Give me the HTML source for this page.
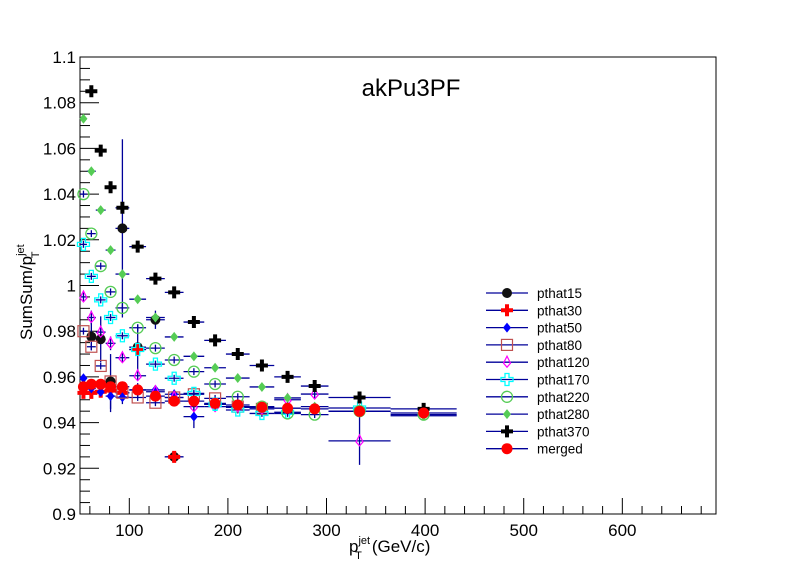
<!DOCTYPE html>
<html><head><meta charset="utf-8"><style>
body{margin:0;background:#fff}
svg{font-family:"Liberation Sans",sans-serif}
</style></head><body>
<svg id="c" width="796" height="572" viewBox="0 0 796 572" xmlns="http://www.w3.org/2000/svg">
<rect x="0" y="0" width="796" height="572" fill="#fff"/>
<g id="frame"></g>
<g id="bars"></g>
<g id="marks"></g>
<g id="legend"></g>
</svg>
<script>
const binEdges=[50,57,66,76,86,100,117,136,155,176,198,222,247,274,302,365,432];
const xTicks=[100,200,300,400,500,600];
const yTicks=[0.9,0.92,0.94,0.96,0.98,1,1.02,1.04,1.06,1.08,1.1];
const yTickLabels=["0.9","0.92","0.94","0.96","0.98","1","1.02","1.04","1.06","1.08","1.1"];
const seriesNames=["pthat15","pthat30","pthat50","pthat80","pthat120","pthat170","pthat220","pthat280","pthat370","merged"];
const v15=[null,0.9776,0.9765,0.958,1.025,0.973,0.985,0.925,null,null,null,null,null,null,null,null];
const e15=[0,0.006,0.010,0.012,0.039,0.010,0.004,0.001,0,0,0,0,0,0,0,0];
const v30=[0.953,0.953,0.9535,0.954,0.953,0.972,null,0.925,null,null,null,null,null,null,null,null];
const v50=[0.9594,0.955,0.9534,0.9516,0.9511,0.9543,0.9543,0.9524,0.9426,0.948,0.9467,0.9467,null,null,null,null];
const e50=[0.001,0.004,0.002,0.007,0.003,0.003,0.002,0.002,0.005,0.002,0.002,0.002,0,0,0,0];
const v80=[0.980,0.9732,0.9648,0.958,0.9531,0.951,0.9487,0.951,0.9524,0.9506,0.947,0.946,null,null,null,null];
const v120=[0.995,0.986,0.9796,0.9747,0.9684,0.9605,0.9535,0.951,0.947,0.947,0.947,0.946,0.950,0.9525,0.932,null];
const e120=[0.002,0.003,0.003,0.003,0.002,0.002,0.002,0.002,0.002,0.002,0.002,0.002,0.002,0.002,0.0105,0];
const v170=[1.018,1.004,0.9937,0.986,0.978,0.972,0.9656,0.9594,0.9528,0.948,0.9455,0.944,0.9445,null,0.9464,null];
const v220=[1.040,1.0227,1.0085,0.9972,0.9902,0.9815,0.9726,0.9674,0.9623,0.9569,0.9513,0.947,0.944,0.9435,0.945,0.9435];
const v280=[1.073,1.050,1.033,1.0155,1.005,0.994,0.986,0.9775,0.969,0.964,0.9595,0.9556,0.9508,0.947,0.945,0.943];
const v370=[null,1.085,1.059,1.043,1.034,1.017,1.003,0.997,0.984,0.976,0.970,0.965,0.960,0.956,0.951,0.946];
const vMerged=[0.9557,0.9568,0.9568,0.9557,0.9557,0.9543,0.9516,0.9494,0.9494,0.9484,0.9477,0.9467,0.9463,0.946,0.9449,0.9442];

const L=80,R=716,T=57,B=514,XMIN=50,XMAX=695,YMIN=0.9,YMAX=1.1;
const X=p=>L+(p-XMIN)/(XMAX-XMIN)*(R-L);
const Y=v=>B-(v-YMIN)/(YMAX-YMIN)*(B-T);
const NS="http://www.w3.org/2000/svg";
function mk(tag,parent,attrs){const e=document.createElementNS(NS,tag);for(const k in attrs)e.setAttribute(k,attrs[k]);parent.appendChild(e);return e;}
const fr=document.getElementById('frame'),bg=document.getElementById('bars'),mg=document.getElementById('marks'),lg=document.getElementById('legend');

const box=mk('rect',fr,{x:L,y:T,width:R-L,height:B-T,fill:'none',stroke:'#000','stroke-width':1});


for(let p=60;p<=XMAX;p+=20){const maj=p%100===0;const t=mk('line',fr,{x1:X(p),x2:X(p),y1:B,y2:B-(maj?16:8),stroke:'#000'});

}
xTicks.forEach(p=>{const t=mk('text',fr,{x:X(p),y:B+22,'font-size':17,'text-anchor':'middle'});t.textContent=p;

});
for(let i=0;i<=40;i++){const v=YMIN+i*0.005;const maj=i%4===0;const t=mk('line',fr,{x1:L,x2:L+(maj?19:10),y1:Y(v),y2:Y(v),stroke:'#000'});

}
yTicks.forEach((v,i)=>{const t=mk('text',fr,{x:L-4,y:Y(v)+6,'font-size':17,'text-anchor':'end'});t.textContent=yTickLabels[i];

});
const ttl=mk('text',fr,{x:411,y:96,'font-size':24,'text-anchor':'middle'});ttl.textContent='akPu3PF';


const xt=mk('text',fr,{x:349,y:552,'font-size':17});xt.innerHTML='p<tspan dy="-8" font-size="11">jet</tspan><tspan dx="-15" dy="15" font-size="11">T</tspan><tspan dx="10" dy="-7">(GeV/c)</tspan>';


const yt=mk('text',fr,{x:0,y:0,'font-size':17,transform:'translate(32,340) rotate(-90)'});yt.innerHTML='SumSum/p<tspan dy="-8" font-size="11">jet</tspan><tspan dx="-14" dy="15" font-size="11">T</tspan>';



function marker(g,type,cx,cy){
 switch(type){
 case 'dot': mk('circle',g,{cx,cy,r:5,fill:'#111'});break;
 case 'redcross': mk('path',g,{d:`M${cx-6} ${cy-2}h4v-4h4v4h4v4h-4v4h-4v-4h-4z`,fill:'#f00'});break;
 case 'bluediamond': mk('path',g,{d:`M${cx} ${cy-5}L${cx+4} ${cy}L${cx} ${cy+5}L${cx-4} ${cy}z`,fill:'#00f'});break;
 case 'square': mk('rect',g,{x:cx-5.5,y:cy-5.5,width:11,height:11,fill:'none',stroke:'#c05050','stroke-width':1.2});break;
 case 'odiamond': mk('path',g,{d:`M${cx} ${cy-6}L${cx+3.5} ${cy+1}L${cx} ${cy+5}L${cx-3.5} ${cy+1}z`,fill:'none',stroke:'#f0f','stroke-width':1.2});break;
 case 'ocross': mk('path',g,{d:`M${cx-6} ${cy-2}h4v-4h4v4h4v4h-4v4h-4v-4h-4z`,fill:'none',stroke:'#0ff','stroke-width':1.3});break;
 case 'ocircle': mk('circle',g,{cx,cy,r:5.5,fill:'none',stroke:'#5c5','stroke-width':1.3});break;
 case 'gdiamond': mk('path',g,{d:`M${cx} ${cy-5}L${cx+4} ${cy}L${cx} ${cy+5}L${cx-4} ${cy}z`,fill:'#5c5'});break;
 case 'bcross': mk('path',g,{d:`M${cx-6} ${cy-2}h4v-4h4v4h4v4h-4v4h-4v-4h-4z`,fill:'#000'});break;
 case 'redcircle': mk('circle',g,{cx,cy,r:5.5,fill:'#f00'});break;
 }
}
const allVals=[v15,v30,v50,v80,v120,v170,v220,v280,v370,vMerged];
const allErrs=[e15,null,e50,null,e120,null,null,null,null,null];
const types=['dot','redcross','bluediamond','square','odiamond','ocross','ocircle','gdiamond','bcross','redcircle'];
allVals.forEach((vals,si)=>{
 const gb=mk('g',bg,{});
 
 
 const g=mk('g',mg,{});
 
 
 vals.forEach((v,i)=>{
  if(v===null)return;
  const lo=binEdges[i],hi=binEdges[i+1],c=(lo+hi)/2;
  const e=allErrs[si]?allErrs[si][i]:0.0015;
  mk('line',gb,{x1:X(lo),x2:X(hi),y1:Y(v),y2:Y(v),stroke:'#000099','stroke-width':1.3});
  mk('line',gb,{x1:X(c),x2:X(c),y1:Y(v-e),y2:Y(v+e),stroke:'#000099','stroke-width':1.3});
  const pg=mk('g',g,{});
  
  
  marker(pg,types[si],X(c),Y(v));
 });
});
seriesNames.forEach((n,i)=>{
 const y=293+i*17.3;
 const g=mk('g',lg,{});
 
 
 mk('line',g,{x1:486,x2:528,y1:y,y2:y,stroke:'#000099','stroke-width':1.3});
 marker(g,types[i],507,y);
 const t=mk('text',g,{x:537,y:y+5,'font-size':13.5});t.textContent=n;
});
</script>
</body></html>
